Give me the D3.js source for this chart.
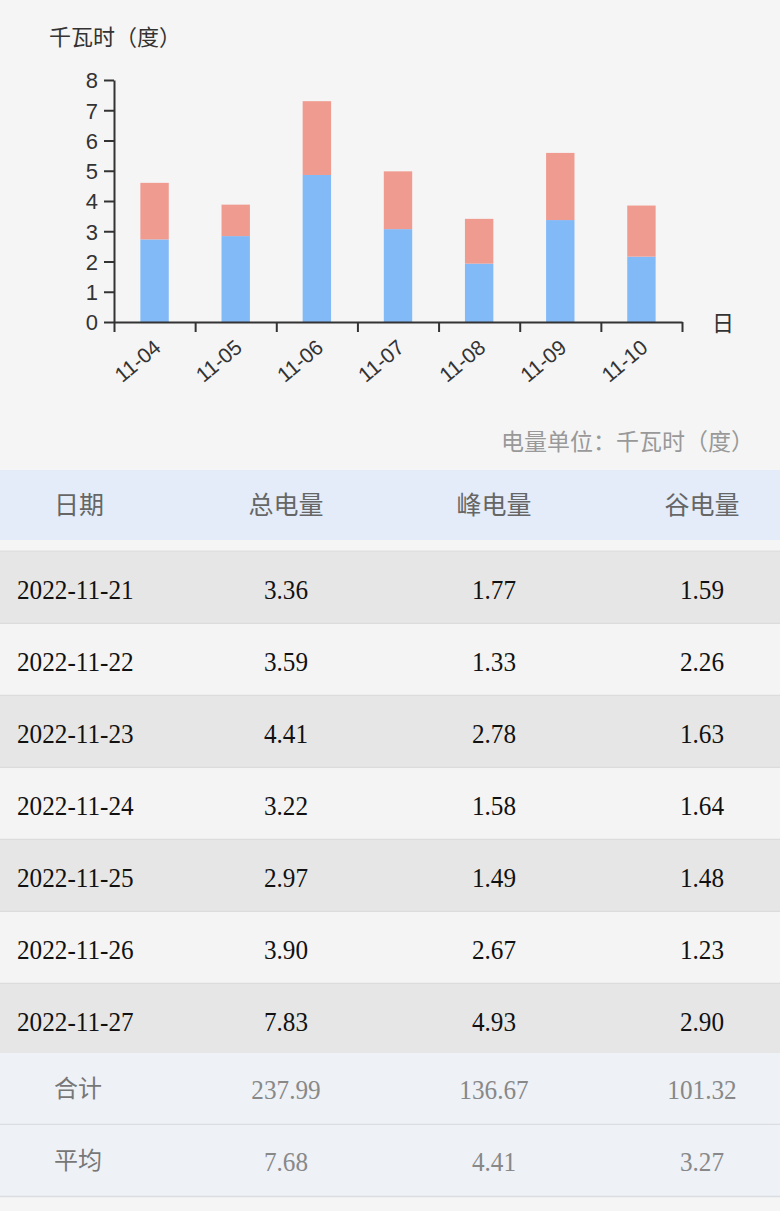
<!DOCTYPE html>
<html><head><meta charset="utf-8">
<script src="https://cdn.jsdelivr.net/npm/d3@7"></script>
<style>
html,body{margin:0;padding:0;background:#f5f5f5;}
svg{display:block;}
</style></head>
<body>
<script>
// ---- chart data ----
const categories = ["11-04","11-05","11-06","11-07","11-08","11-09","11-10"];
const seriesBlue = [2.73, 2.84, 4.86, 3.07, 1.93, 3.37, 2.16];
const seriesRed  = [1.87, 1.04, 2.44, 1.91, 1.48, 2.22, 1.69];
const yTicks = [0,1,2,3,4,5,6,7,8];
const yTitle = "千瓦时（度）";
const xTitle = "日";
const unitNote = "电量单位：千瓦时（度）";

// ---- table data ----
const headers = ["日期","总电量","峰电量","谷电量"];
const tableDates = ["2022-11-21","2022-11-22","2022-11-23","2022-11-24","2022-11-25","2022-11-26","2022-11-27"];
const tableTotal = ["3.36","3.59","4.41","3.22","2.97","3.90","7.83"];
const tablePeak  = ["1.77","1.33","2.78","1.58","1.49","2.67","4.93"];
const tableValley= ["1.59","2.26","1.63","1.64","1.48","1.23","2.90"];
const summaryLabels = ["合计","平均"];
const summaryTotal = ["237.99","7.68"];
const summaryPeak  = ["136.67","4.41"];
const summaryValley= ["101.32","3.27"];

const W = 780, H = 1211;
const svg = d3.select("body").append("svg").attr("width", W).attr("height", H);
svg.append("rect").attr("width", W).attr("height", H).attr("fill", "#f5f5f5");

const sans = "'Noto Sans CJK SC', 'Liberation Sans', sans-serif";
const serif = "'Liberation Serif', 'DejaVu Serif', serif";
const latin = "'Liberation Sans', 'DejaVu Sans', sans-serif";

// ---- chart ----
const x0 = 114, x1 = 682, y0 = 322, yTop = 80;
const x = d3.scaleBand().domain(categories).range([x0, x1]).paddingInner(0.65).paddingOuter(0.325);
const xb = d3.scaleLinear().domain([0, categories.length]).range([x0, x1]);
const y = d3.scaleLinear().domain([0, 8]).range([y0, yTop]);

const stackData = categories.map((c, i) => ({cat: c, blue: seriesBlue[i], red: seriesRed[i]}));
const stack = d3.stack().keys(["blue", "red"])(stackData);
const colors = {blue: "#82b9f7", red: "#ef9b90"};

svg.append("g").selectAll("g").data(stack).join("g")
  .attr("fill", d => colors[d.key])
  .selectAll("rect").data(d => d).join("rect")
  .attr("x", d => x(d.data.cat))
  .attr("width", x.bandwidth())
  .attr("y", d => y(d[1]))
  .attr("height", d => y(d[0]) - y(d[1]));

const yAxis = svg.append("g").attr("transform", `translate(${x0},0)`)
  .call(d3.axisLeft(y).tickValues(yTicks).tickSize(10).tickSizeOuter(0).tickFormat(d3.format("d")));
yAxis.select(".domain").attr("stroke", "#333").attr("stroke-width", 2);
yAxis.selectAll(".tick line").attr("stroke", "#333").attr("stroke-width", 2);
yAxis.selectAll(".tick text").attr("font-family", latin)
  .attr("font-size", 22).attr("fill", "#333").attr("x", -16).attr("dy", "0.36em");

const xAxis = svg.append("g").attr("transform", `translate(0,${y0})`)
  .call(d3.axisBottom(xb).tickValues(d3.range(categories.length + 1)).tickSize(10).tickSizeOuter(0).tickFormat(""));
xAxis.select(".domain").attr("stroke", "#333").attr("stroke-width", 2);
xAxis.selectAll(".tick line").attr("stroke", "#333").attr("stroke-width", 2);

svg.append("g").selectAll("text").data(categories).join("text")
  .attr("transform", d => `translate(${x(d) + x.bandwidth() / 2 + 3},${y0 + 22}) rotate(-40)`)
  .attr("text-anchor", "end").attr("dy", "0.35em")
  .attr("font-family", latin).attr("font-size", 21).attr("fill", "#333")
  .text(d => d);

svg.append("text").attr("x", 49).attr("y", 45).attr("font-family", sans)
  .attr("font-size", 22).attr("fill", "#333").text(yTitle);
svg.append("text").attr("x", 712).attr("y", 331).attr("font-family", sans)
  .attr("font-size", 22).attr("fill", "#333").text(xTitle);
svg.append("text").attr("x", 754).attr("y", 450).attr("text-anchor", "end").attr("font-family", sans)
  .attr("font-size", 23).attr("fill", "#999").text(unitNote);

// ---- table ----
const colX = [null, 286, 494, 702];
const numScale = 0.9, numSize = 28;
// header
svg.append("rect").attr("x", 0).attr("y", 470).attr("width", W).attr("height", 70).attr("fill", "#e3ecf8");
svg.append("g").selectAll("text").data(headers).join("text")
  .attr("x", (d, i) => i === 0 ? 79 : colX[i]).attr("y", 505).attr("dy", "0.35em")
  .attr("text-anchor", "middle").attr("font-family", sans).attr("font-size", 25).attr("fill", "#666")
  .text(d => d);
svg.append("line").attr("x1", 0).attr("x2", W).attr("y1", 551.5).attr("y2", 551.5).attr("stroke", "#e0e0e0").attr("stroke-width", 2);

const rowH = 72, rowStart = 552;
const rows = tableDates.map((d, i) => ({date: d, vals: [tableTotal[i], tablePeak[i], tableValley[i]], i}));
const rowG = svg.append("g").selectAll("g").data(rows).join("g")
  .attr("transform", d => `translate(0,${rowStart + d.i * rowH})`);
rowG.append("rect").attr("width", W).attr("height", rowH).attr("fill", d => d.i % 2 === 0 ? "#e6e6e6" : "#f4f4f4");
rowG.append("line").attr("x1", 0).attr("x2", W).attr("y1", rowH - 0.5).attr("y2", rowH - 0.5).attr("stroke", "#dcdcdc").attr("stroke-width", 1.5);
rowG.append("text").attr("transform", `translate(17,${rowH / 2 + 1}) scale(${numScale},1)`).attr("dy", "0.35em")
  .attr("font-family", serif).attr("font-size", numSize).attr("fill", "#111").text(d => d.date);
rowG.selectAll("text.v").data(d => d.vals).join("text").attr("class", "v")
  .attr("transform", (d, j) => `translate(${colX[j + 1]},${rowH / 2 + 1}) scale(${numScale},1)`)
  .attr("dy", "0.35em").attr("text-anchor", "middle")
  .attr("font-family", serif).attr("font-size", numSize).attr("fill", "#111").text(d => d);

const sumStart = rowStart + tableDates.length * rowH - 3;
const sums = summaryLabels.map((l, i) => ({label: l, vals: [summaryTotal[i], summaryPeak[i], summaryValley[i]], i}));
const sumG = svg.append("g").selectAll("g").data(sums).join("g")
  .attr("transform", d => `translate(0,${sumStart + d.i * rowH})`);
sumG.append("rect").attr("width", W).attr("height", rowH).attr("fill", "#eef1f6");
sumG.append("line").attr("x1", 0).attr("x2", W).attr("y1", rowH - 0.5).attr("y2", rowH - 0.5).attr("stroke", "#dcdde2").attr("stroke-width", 1.5);
sumG.append("text").attr("x", 78).attr("y", rowH / 2).attr("dy", "0.35em").attr("text-anchor", "middle")
  .attr("font-family", sans).attr("font-size", 24).attr("fill", "#777").text(d => d.label);
sumG.selectAll("text.v").data(d => d.vals).join("text").attr("class", "v")
  .attr("transform", (d, j) => `translate(${colX[j + 1]},${rowH / 2}) scale(${numScale},1)`)
  .attr("dy", "0.35em").attr("text-anchor", "middle")
  .attr("font-family", serif).attr("font-size", numSize).attr("fill", "#888").text(d => d);
</script>
</body></html>
